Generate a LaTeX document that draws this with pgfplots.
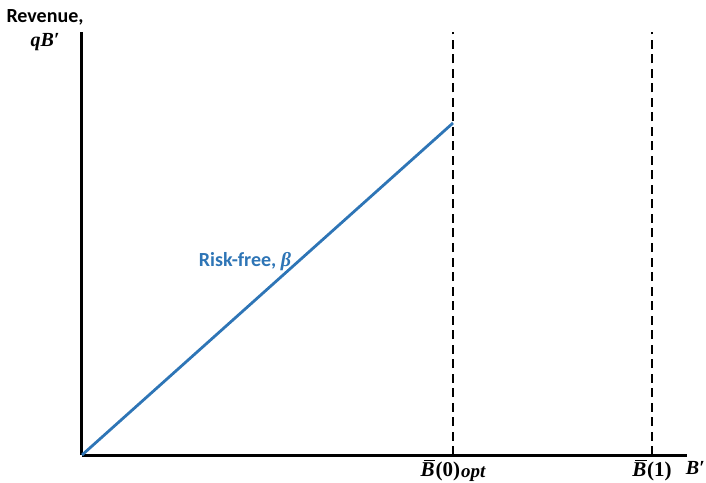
\documentclass[border=0pt]{standalone}
\usepackage{pgfplots}
\pgfplotsset{compat=1.18}
\usepackage{fontspec}
\setmainfont{Carlito}
\newfontfamily\mf{Liberation Serif}
\definecolor{lineblue}{RGB}{46,117,182}
\newcommand{\lab}{\bfseries\fontsize{20}{24}\selectfont}
% bold symbols in a serif face
\newcommand{\vi}[1]{{\mf\bfseries\itshape #1}}
\newcommand{\vu}[1]{{\mf\bfseries #1}}
\newcommand{\Bbar}{\leavevmode\rlap{\kern0.14em\rule[0.72em]{0.56em}{1.4pt}}\vi{B}\kern0.04em}
\begin{document}
\begin{tikzpicture}
\begin{axis}[
  scale only axis,
  width=605pt, height=423pt,
  xmin=0, xmax=605, ymin=0, ymax=423,
  axis lines=left,
  axis line style={line width=3pt, -},
  clip=false,
  ytick=\empty,
  xtick={371,570},
  xticklabels={\Bbar\vu{(0)}\kern0.05em\raisebox{-0.08em}{\fontsize{19}{19}\selectfont\vi{opt}}, \Bbar\vu{(1)}},
  xticklabel style={font=\bfseries\fontsize{21}{24}\selectfont, yshift=-1pt},
  major tick length=0pt,
]
% revenue of risk-free borrowing
\addplot[lineblue, line width=2.8pt] coordinates {(0,0) (371,332)};
% borrowing limits
\addplot[black, line width=2.8pt, dash pattern=on 9pt off 5.5pt] coordinates {(371,0) (371,423)};
\addplot[black, line width=2.8pt, dash pattern=on 9pt off 5.5pt] coordinates {(570,0) (570,423)};
\node[text=lineblue, font=\lab] at (axis cs:163,193) {Risk-free, \vi{β}};
\node[font=\lab] at (axis cs:-37,438) {Revenue,};
\node[font=\lab] at (axis cs:-37,413) {\vi{qB′}};
\node[font=\lab, anchor=east, inner sep=0pt] at (axis cs:623,-13) {\vi{B′}};
\end{axis}
\pgfresetboundingbox
\path[use as bounding box] (-82pt,-27pt) rectangle (624pt,455pt);
\end{tikzpicture}
\end{document}
